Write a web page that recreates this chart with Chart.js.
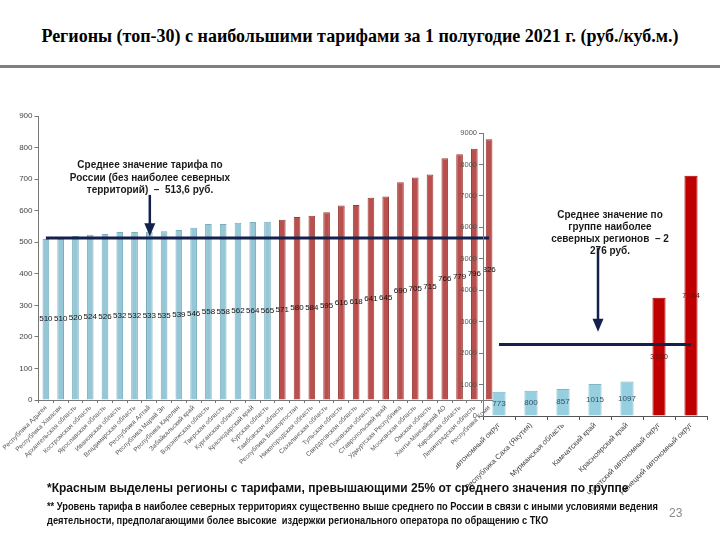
<!DOCTYPE html>
<html lang="ru">
<head>
<meta charset="utf-8">
<script src="https://cdn.jsdelivr.net/npm/chart.js@4.4.1/dist/chart.umd.min.js"></script>
<style>
  body { margin: 0; background: #fff; }
  #wrap { position: relative; width: 720px; height: 540px; overflow: hidden; font-family: "Liberation Sans", Arial, sans-serif; }
  #title { position: absolute; left: 0; top: 26px; width: 720px; text-align: center; font: bold 18px "Liberation Serif", "Times New Roman", serif; color: #000; }
  #rule { position: absolute; left: 0; top: 65px; width: 720px; height: 3px; background: #7f7f7f; }
  #leftChart { position: absolute; left: 0; top: 0; }
  #rightChart { position: absolute; left: 456px; top: 0; }
  .note { position: absolute; text-align: center; font-weight: bold; font-size: 10px; line-height: 12.5px; color: #1a1a1a; white-space: nowrap; }
  .foot { position: absolute; left: 47px; white-space: nowrap; color: #111; transform-origin: left top; }
  #page { position: absolute; left: 669px; top: 506px; font-size: 12px; color: #8a8a8a; }
</style>
</head>
<body>
<div id="wrap">
  <div id="title">Регионы (топ-30) с наибольшими тарифами за 1 полугодие 2021 г. (руб./куб.м.)</div>
  <div id="rule"></div>
  <canvas id="leftChart" width="497" height="490"></canvas>
  <canvas id="rightChart" width="264" height="500"></canvas>
  <div class="note" style="left:60px; width:180px; top:159px;">Среднее значение тарифа по<br>России (без наиболее северных<br>территорий)&nbsp; – &nbsp;513,6 руб.</div>
  <div class="note" style="left:540px; width:140px; top:209px; line-height:12px;">Среднее значение по<br>группе наиболее<br>северных регионов &nbsp;– 2<br>276 руб.</div>
  <div class="foot" style="top:481px; font-weight:bold; font-size:12px;">*Красным выделены регионы с тарифами, превышающими 25% от среднего значения по группе</div>
  <div class="foot" style="top:500px; font-size:10.5px; font-weight:bold; transform:scaleX(0.885);">** Уровень тарифа в наиболее северных территориях существенно выше среднего по России в связи с иными условиями ведения</div>
  <div class="foot" style="top:514px; font-size:10.5px; font-weight:bold; transform:scaleX(0.885);">деятельности, предполагающими более высокие&nbsp; издержки регионального оператора по обращению с ТКО</div>
  <div id="page">23</div>
</div>
<script>
const leftRegions = [
  "Республика Адыгея", "Республика Хакасия", "Архангельская область", "Костромская область",
  "Ярославская область", "Ивановская область", "Владимирская область", "Республика Алтай",
  "Республика Марий Эл", "Республика Карелия", "Забайкальский край", "Воронежская область",
  "Тверская область", "Курганская область", "Краснодарский край", "Курская область",
  "Тамбовская область", "Республика Башкортостан", "Нижегородская область", "Сахалинская область",
  "Тульская область", "Свердловская область", "Псковская область", "Ставропольский край",
  "Удмуртская Республика", "Московская область", "Омская область", "Ханты-Мансийский АО",
  "Кировская область", "Ленинградская область", "Республика Коми"
];
const leftValues = [510, 510, 520, 524, 526, 532, 532, 533, 535, 539, 546, 558, 558, 562, 564, 565,
  571, 580, 584, 595, 616, 618, 641, 645, 690, 705, 715, 766, 779, 796, 826];
const leftBlueCount = 16;
const leftAverage = 513.6;
const leftTicks = { min: 0, max: 900, step: 100 };

const rightRegions = [
  "Ямало-Ненецкий автономный округ", "Республика Саха (Якутия)", "Мурманская область",
  "Камчатский край", "Красноярский край", "Чукотский автономный округ", "Ненецкий автономный округ"
];
const rightValues = [773, 800, 857, 1015, 1097, 3760, 7644];
const rightBlueCount = 5;
const rightAverage = 2276;
const rightTicks = { min: 0, max: 9000, step: 1000 };

const navy = '#15214d';

// labels in the middle of each bar
const barLabels = {
  id: 'barLabels',
  afterDatasetsDraw(chart, args, opts) {
    const ctx = chart.ctx;
    const meta = chart.getDatasetMeta(0);
    const values = chart.data.datasets[0].data;
    ctx.save();
    ctx.font = opts.font;
    ctx.textAlign = 'center';
    ctx.textBaseline = 'middle';
    meta.data.forEach((bar, i) => {
      ctx.fillStyle = opts.colors[i];
      ctx.fillText(values[i], bar.x, (bar.y + bar.base) / 2);
    });
    ctx.restore();
  }
};

// average line and arrow pointing at it
const avgLine = {
  id: 'avgLine',
  afterDatasetsDraw(chart, args, opts) {
    const { ctx, scales: { x, y } } = chart;
    const py = y.getPixelForValue(opts.value);
    ctx.save();
    ctx.strokeStyle = navy;
    ctx.fillStyle = navy;
    ctx.lineWidth = 3;
    ctx.beginPath();
    ctx.moveTo(x.getPixelForValue(0), py);
    ctx.lineTo(x.getPixelForValue(chart.data.labels.length - 1), py);
    ctx.stroke();

    const ax = x.getPixelForValue(opts.arrowAt) + opts.arrowShift;
    const top = y.getPixelForValue(opts.arrowFrom);
    const tip = y.getPixelForValue(opts.arrowTo);
    ctx.lineWidth = 2.5;
    ctx.beginPath();
    ctx.moveTo(ax, top);
    ctx.lineTo(ax, tip - 10);
    ctx.stroke();
    ctx.beginPath();
    ctx.moveTo(ax - 5.5, tip - 13);
    ctx.lineTo(ax + 5.5, tip - 13);
    ctx.lineTo(ax, tip);
    ctx.closePath();
    ctx.fill();
    ctx.restore();
  }
};

const fixedBox = (w, h) => function (scale) {
  if (w !== null) scale.width = w;
  if (h !== null) scale.height = h;
  scale.paddingLeft = 0;
  scale.paddingRight = 0;
  scale.paddingTop = 0;
  scale.paddingBottom = 0;
};

const leftColors = leftValues.map((v, i) => i < leftBlueCount ? '#96c7d7' : '#b9504d');
const leftBorders = leftValues.map((v, i) => i < leftBlueCount ? '#78aebf' : '#9a3c39');

new Chart(document.getElementById('leftChart'), {
  type: 'bar',
  data: {
    labels: leftRegions,
    datasets: [{
      data: leftValues,
      backgroundColor: leftColors,
      borderColor: leftBorders,
      borderWidth: 1,
      barPercentage: 0.45,
      categoryPercentage: 1
    }]
  },
  options: {
    responsive: false,
    animation: false,
    layout: { padding: { top: 116, left: 0, right: 0.5, bottom: 0 } },
    plugins: {
      legend: { display: false },
      tooltip: { enabled: false },
      barLabels: { font: '8px "Liberation Sans", Arial, sans-serif', colors: leftValues.map(() => '#111') },
      avgLine: { value: leftAverage, arrowAt: 7, arrowShift: 0.5, arrowFrom: 650, arrowTo: 519 }
    },
    scales: {
      x: {
        afterFit: fixedBox(null, 90),
        grid: { drawOnChartArea: false, drawTicks: true, tickLength: 3, color: '#777', offset: true },
        border: { color: '#777', width: 1 },
        ticks: {
          autoSkip: false, minRotation: 45, maxRotation: 45, padding: 1,
          color: '#555', font: { size: 6.5, family: '"Liberation Sans", Arial, sans-serif' }
        }
      },
      y: {
        min: leftTicks.min, max: leftTicks.max,
        afterFit: fixedBox(38.5, null),
        grid: { drawOnChartArea: false, drawTicks: true, tickLength: 4, color: '#777' },
        border: { color: '#777', width: 1 },
        ticks: {
          stepSize: leftTicks.step, padding: 2,
          color: '#444', font: { size: 8, family: '"Liberation Sans", Arial, sans-serif' }
        }
      }
    }
  },
  plugins: [barLabels, avgLine]
});

const rightColors = rightValues.map((v, i) => i < rightBlueCount ? '#96cfdf' : '#c00000');
const rightBorders = rightValues.map((v, i) => i < rightBlueCount ? '#7fb5c5' : '#a80000');
const rightLabelColors = rightValues.map((v, i) => i < rightBlueCount ? '#34506b' : '#6e1010');

new Chart(document.getElementById('rightChart'), {
  type: 'bar',
  data: {
    labels: rightRegions,
    datasets: [{
      data: rightValues,
      backgroundColor: rightColors,
      borderColor: rightBorders,
      borderWidth: 1,
      barPercentage: 0.41,
      categoryPercentage: 1
    }]
  },
  options: {
    responsive: false,
    animation: false,
    layout: { padding: { top: 133, left: 0, right: 13, bottom: 0 } },
    plugins: {
      legend: { display: false },
      tooltip: { enabled: false },
      barLabels: { font: '8px "Liberation Sans", Arial, sans-serif', colors: rightLabelColors },
      avgLine: { value: rightAverage, arrowAt: 3, arrowShift: 3, arrowFrom: 5350, arrowTo: 2680 }
    },
    scales: {
      x: {
        afterFit: fixedBox(null, 84),
        grid: { drawOnChartArea: false, drawTicks: true, tickLength: 4, color: '#555', offset: true },
        border: { color: '#555', width: 1 },
        ticks: {
          autoSkip: false, minRotation: 45, maxRotation: 45, padding: 1,
          color: '#444', font: { size: 7.5, family: '"Liberation Sans", Arial, sans-serif' }
        }
      },
      y: {
        min: rightTicks.min, max: rightTicks.max,
        afterFit: fixedBox(27, null),
        grid: { drawOnChartArea: false, drawTicks: true, tickLength: 4, color: '#777' },
        border: { color: '#777', width: 1 },
        ticks: {
          stepSize: rightTicks.step, padding: 2,
          callback: (value) => String(value),
          color: '#555', font: { size: 7.5, family: '"Liberation Sans", Arial, sans-serif' }
        }
      }
    }
  },
  plugins: [barLabels, avgLine]
});
</script>
</body>
</html>
